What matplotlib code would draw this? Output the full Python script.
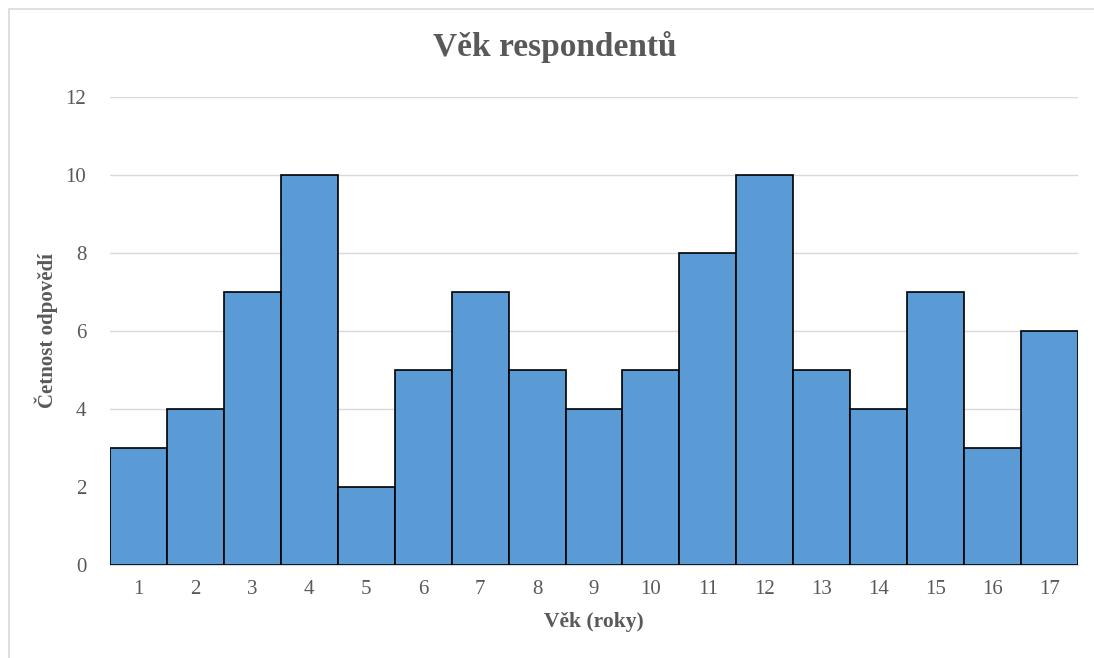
import matplotlib
matplotlib.use('Agg')
import matplotlib.pyplot as plt
from matplotlib.patches import Rectangle

# data
ages = [str(i) for i in range(1, 18)]
counts = [3, 4, 7, 10, 2, 5, 7, 5, 4, 5, 8, 10, 5, 4, 7, 3, 6]
yticks = [0, 2, 4, 6, 8, 10, 12]

plt.rcParams['font.family'] = ['Liberation Serif', 'DejaVu Serif']
txt = '#595959'

fig = plt.figure(figsize=(10.94, 6.58), dpi=100)
ax = fig.add_axes([110 / 1094, 1 - 565 / 658, 968 / 1094, 468 / 658])

ax.bar(range(len(ages)), counts, width=1.0, color='#5B9BD5',
       edgecolor='black', linewidth=1.2, zorder=3)
ax.set_xlim(-0.5, len(ages) - 0.5)
ax.set_ylim(0, 12)
ax.set_xticks(range(len(ages)))
ax.set_xticklabels(ages)
ax.set_yticks(yticks)
ax.grid(axis='y', color='#D9D9D9', linewidth=1, zorder=0)
for s in ['top', 'right', 'left']:
    ax.spines[s].set_visible(False)
ax.spines['bottom'].set_color('#D9D9D9')
ax.tick_params(length=0, labelsize=15, colors=txt, pad=11)
ax.tick_params(axis='y', pad=17)

ax.set_xlabel('Věk (roky)', fontsize=15.5, fontweight='bold', color=txt, labelpad=9)
ax.set_ylabel('Četnost odpovědí', fontsize=15, fontweight='bold', color=txt)
ax.yaxis.set_label_coords(-52 / 968, 0.5)
fig.text(555 / 1094, 1 - 47 / 658, 'Věk respondentů', ha='center', va='center',
         fontsize=24, fontweight='bold', color=txt)

# outer chart border
fig.patches.append(Rectangle((9 / 1094, -0.05), 1.1, 1 - 9 / 658 + 0.05,
                             transform=fig.transFigure, fill=False,
                             edgecolor='#D9D9D9', linewidth=1.2))

fig.savefig('out.png', dpi=100)
